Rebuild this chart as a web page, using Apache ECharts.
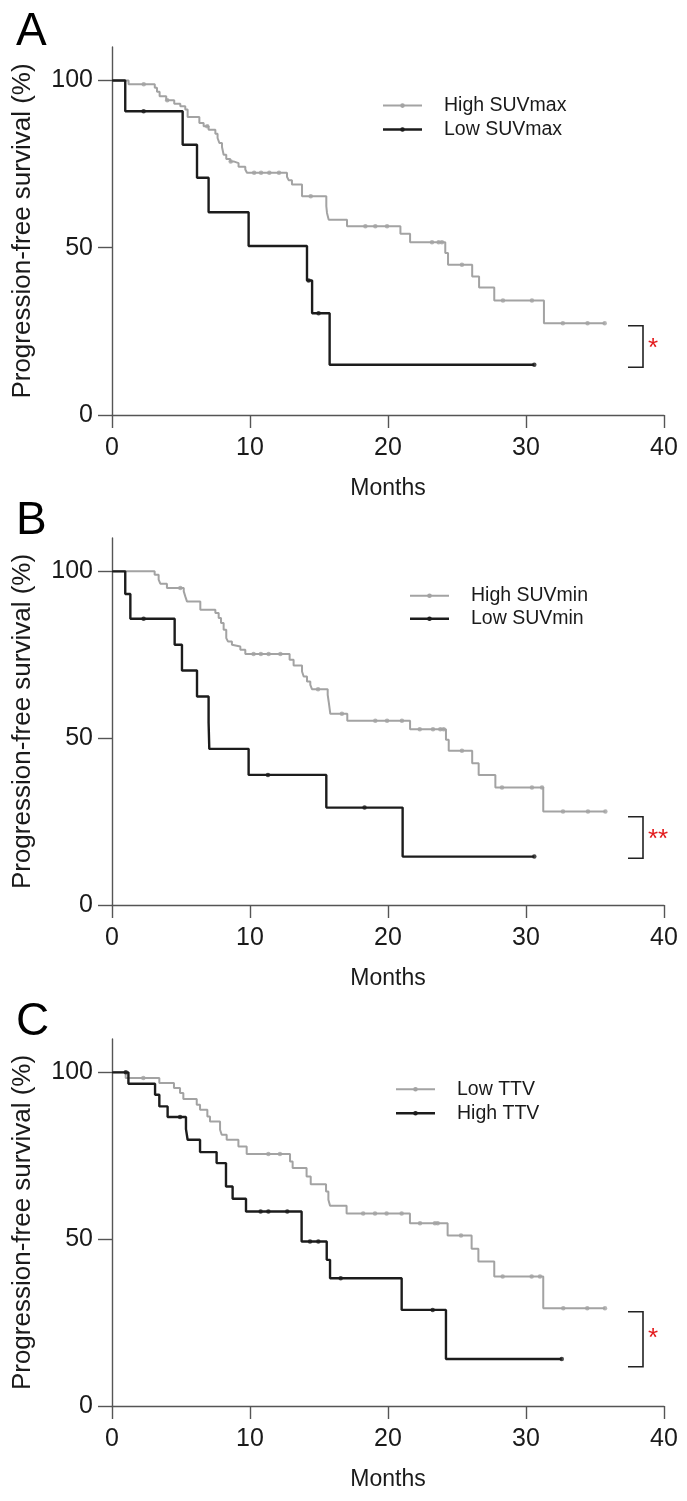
<!DOCTYPE html>
<html>
<head>
<meta charset="utf-8">
<script src="https://cdn.jsdelivr.net/npm/echarts@6/dist/echarts.min.js"></script>
<style>
html,body{margin:0;padding:0;background:#fff;}
#chart{width:687px;height:1501px;}
</style>
</head>
<body>
<div id="chart"></div>
<script>
// ---------- DATA ----------
const xTicks = [0, 10, 20, 30, 40];
const yTicks = [0, 50, 100];
const panelLetters = ['A', 'B', 'C'];
const stars = ['*', '**', '*'];

// Panel A
const aHighName = 'High SUVmax';
const aHighT = [0, 1.2, 3.1, 3.26, 3.45, 3.93, 4.51, 4.95, 5.31, 5.48, 6.33, 6.64, 7.0, 7.49, 7.65, 7.78, 7.97, 8.09, 8.28, 8.57, 8.81, 9.17, 9.66, 9.78, 12.68, 12.8, 13.04, 13.77, 15.53, 15.58, 15.7, 17.03, 20.9, 21.6, 24.15, 24.35, 26.1, 26.6, 27.7, 31.3, 35.7];
const aHighS = [100, 98.9, 97.8, 96.6, 95.3, 94.1, 93.0, 92.3, 91.3, 89.1, 87.3, 86.3, 85.3, 84.1, 82.8, 81.3, 80.1, 77.8, 76.5, 75.8, 75.3, 74.2, 73.4, 72.4, 71.2, 70.2, 68.9, 65.4, 62.4, 60.4, 58.4, 56.4, 54.2, 51.6, 48.4, 44.9, 41.4, 38.1, 34.2, 27.4, 27.4];
const aHighCens = [2.3, 4.0, 6.9, 8.6, 10.3, 10.8, 11.4, 12.1, 14.4, 18.36, 19.08, 19.93, 23.19, 23.67, 23.91, 25.36, 28.33, 30.43, 32.67, 34.46, 35.7];
const aLowName = 'Low SUVmax';
const aLowT = [0, 0.96, 5.12, 6.16, 7.0, 9.9, 14.13, 14.5, 15.77, 30.6];
const aLowS = [100, 90.8, 80.8, 70.9, 60.6, 50.5, 40.2, 30.4, 15.0, 15.0];
const aLowCens = [2.29, 14.25, 14.97, 30.6];

// Panel B
const bHighName = 'High SUVmin';
const bHighT = [0, 3.09, 3.38, 3.5, 3.98, 5.2, 5.31, 5.43, 6.4, 7.49, 7.73, 7.9, 8.09, 8.28, 8.4, 8.69, 8.81, 9.3, 9.66, 12.87, 13.16, 13.77, 13.89, 14.13, 14.37, 14.49, 15.63, 15.7, 15.82, 17.05, 21.6, 24.2, 24.4, 26.1, 26.57, 27.78, 31.25, 35.75];
const bHighS = [100, 99.0, 97.5, 96.3, 95.0, 94.0, 92.5, 91.0, 88.5, 87.5, 86.0, 84.5, 82.5, 80.0, 79.0, 78.0, 77.5, 76.5, 75.2, 73.5, 71.8, 70.0, 68.5, 67.0, 66.0, 64.7, 63.0, 61.0, 57.3, 55.2, 52.7, 49.5, 46.2, 42.5, 39.0, 35.2, 28.0, 28.0];
const bHighCens = [4.95, 10.26, 10.79, 11.35, 12.2, 14.93, 16.66, 19.08, 19.93, 21.01, 22.3, 23.26, 23.79, 24.03, 25.36, 28.26, 30.43, 31.16, 32.68, 34.49, 35.75];
const bLowName = 'Low SUVmin';
const bLowT = [0, 0.96, 1.33, 4.54, 5.07, 6.16, 7.0, 7.05, 9.9, 15.53, 21.06, 30.6];
const bLowS = [100, 93.2, 85.8, 78.0, 70.3, 62.5, 54.7, 46.8, 39.0, 29.2, 14.5, 14.5];
const bLowCens = [2.29, 11.3, 18.3, 30.6];

// Panel C
const cLowName = 'Low TTV';
const cLowT = [0, 0.99, 3.43, 4.49, 4.93, 5.17, 6.14, 6.38, 6.91, 7.1, 7.83, 7.95, 8.31, 9.16, 9.76, 12.9, 13.09, 14.1, 14.4, 15.51, 15.68, 15.8, 17.0, 21.59, 24.32, 26.06, 26.55, 27.7, 31.25, 35.72];
const cLowS = [100, 98.3, 96.8, 95.3, 93.8, 92.0, 90.3, 88.8, 86.8, 85.3, 82.8, 81.3, 79.8, 77.8, 75.5, 73.3, 71.3, 68.8, 66.5, 64.3, 61.8, 60.0, 57.7, 54.8, 51.1, 47.1, 43.3, 38.8, 29.3, 29.3];
const cLowCens = [2.27, 11.33, 12.17, 18.2, 19.06, 19.9, 20.99, 22.32, 23.4, 23.6, 25.29, 28.31, 30.41, 31.01, 32.7, 34.44, 35.72];
const cHighName = 'High TTV';
const cHighT = [0, 1.19, 3.12, 3.43, 4.03, 5.36, 5.48, 6.38, 7.58, 8.26, 8.74, 9.71, 13.74, 15.56, 15.8, 20.99, 24.2, 32.59];
const cHighS = [100, 96.6, 93.3, 89.8, 86.6, 83.0, 79.8, 76.1, 72.8, 65.8, 62.1, 58.3, 49.3, 43.8, 38.3, 28.8, 14.1, 14.1];
const cHighCens = [1.0, 4.93, 10.77, 11.33, 12.7, 14.35, 14.95, 16.57, 23.24, 32.59];

// ---------- STYLE / LAYOUT ----------
const FONT = '"Liberation Sans", Arial, Helvetica, sans-serif';
const GRAY = '#a3a3a3';
const BLACK = '#1c1c1c';
const AXIS = '#555555';

const panels = [
  { top: 47,   height: 368, gray: [aHighName, aHighT, aHighS, aHighCens], black: [aLowName, aLowT, aLowS, aLowCens],
    legend: { x: 383, y1: 105.6, y2: 129.5 }, letterY: 32, bracket: [325.7, 367.3], starX: 653, starY: 349 },
  { top: 538,  height: 367, gray: [bHighName, bHighT, bHighS, bHighCens], black: [bLowName, bLowT, bLowS, bLowCens],
    legend: { x: 410, y1: 595.7, y2: 618.8 }, letterY: 521, bracket: [816.7, 858.3], starX: 658, starY: 840 },
  { top: 1039, height: 367, gray: [cLowName, cLowT, cLowS, cLowCens], black: [cHighName, cHighT, cHighS, cHighCens],
    legend: { x: 396, y1: 1089.3, y2: 1113.3 }, letterY: 1022, bracket: [1311.7, 1366.7], starX: 653, starY: 1339 }
];

function zip(T, S) { return T.map((t, i) => [t, S[i]]); }
function levelAt(T, S, t) {
  let v = S[0];
  for (let i = 0; i < T.length; i++) { if (T[i] <= t) v = S[i]; }
  return v;
}

const grid = [], xAxis = [], yAxis = [], series = [], graphic = [];

panels.forEach((p, i) => {
  grid.push({ left: 112, width: 552, top: p.top, height: p.height });
  xAxis.push({
    type: 'value', gridIndex: i, min: xTicks[0], max: xTicks[xTicks.length - 1], interval: 10,
    axisLine: { show: true, onZero: false, lineStyle: { color: AXIS, width: 1.4 } },
    axisTick: { show: true, length: 13, lineStyle: { color: AXIS, width: 1.4 } },
    axisLabel: { fontSize: 25, color: '#1a1a1a', margin: 21, fontFamily: FONT },
    splitLine: { show: false },
    name: 'Months', nameLocation: 'middle', nameGap: 62,
    nameTextStyle: { fontSize: 23, color: '#1a1a1a', fontFamily: FONT }
  });
  yAxis.push({
    type: 'value', gridIndex: i, min: 0, max: 110, interval: 50,
    axisLine: { show: true, onZero: false, lineStyle: { color: AXIS, width: 1.4 } },
    axisTick: { show: true, length: 14, customValues: yTicks, lineStyle: { color: AXIS, width: 1.4 } },
    axisLabel: { fontSize: 25, color: '#1a1a1a', margin: 19, fontFamily: FONT, customValues: yTicks },
    splitLine: { show: false },
    name: 'Progression-free survival (%)', nameLocation: 'middle', nameGap: 76, nameRotate: 90,
    nameTextStyle: { fontSize: 26, color: '#1a1a1a', fontFamily: FONT }
  });

  [[p.gray, GRAY, 2], [p.black, BLACK, 2.4]].forEach(([g, col, w]) => {
    const [name, T, S, C] = g;
    series.push({
      type: 'line', name: name, xAxisIndex: i, yAxisIndex: i, step: 'end',
      data: zip(T, S), symbol: 'none', silent: true,
      lineStyle: { color: col, width: w }, z: col === BLACK ? 3 : 2
    });
    series.push({
      type: 'scatter', name: name + ' censored', xAxisIndex: i, yAxisIndex: i,
      data: C.map(t => [t, levelAt(T, S, t)]), symbol: 'circle', symbolSize: 4.5, silent: true,
      itemStyle: { color: col }, z: col === BLACK ? 4 : 3
    });
  });

  // legend (drawn)
  const L = p.legend;
  [[L.y1, GRAY, p.gray[0], 2], [L.y2, BLACK, p.black[0], 2.4]].forEach(([y, col, label, w]) => {
    graphic.push({ type: 'line', shape: { x1: L.x, y1: y, x2: L.x + 39, y2: y }, style: { stroke: col, lineWidth: w }, silent: true });
    graphic.push({ type: 'circle', shape: { cx: L.x + 19.5, cy: y, r: 2.3 }, style: { fill: col }, silent: true });
    graphic.push({ type: 'text', x: L.x + 61, y: y, style: { text: label, fontSize: 19.5, fontFamily: FONT, fill: '#1a1a1a', align: 'left', verticalAlign: 'middle' }, silent: true });
  });

  // panel letter
  graphic.push({ type: 'text', x: 16, y: p.letterY, style: { text: panelLetters[i], fontSize: 46, fontFamily: FONT, fill: '#000', align: 'left', verticalAlign: 'middle' }, silent: true });

  // significance bracket + stars
  const [b1, b2] = p.bracket;
  graphic.push({ type: 'polyline', shape: { points: [[628, b1], [643, b1], [643, b2], [628, b2]] }, style: { stroke: '#222', lineWidth: 1.6, fill: null }, silent: true });
  graphic.push({ type: 'text', x: p.starX, y: p.starY, style: { text: stars[i], fontSize: 26, fontFamily: FONT, fill: '#e31a1c', align: 'center', verticalAlign: 'middle' }, silent: true });
});

const chart = echarts.init(document.getElementById('chart'), null, { renderer: 'canvas' });
chart.setOption({
  animation: false,
  backgroundColor: '#ffffff',
  grid, xAxis, yAxis, series, graphic
});
</script>
</body>
</html>
